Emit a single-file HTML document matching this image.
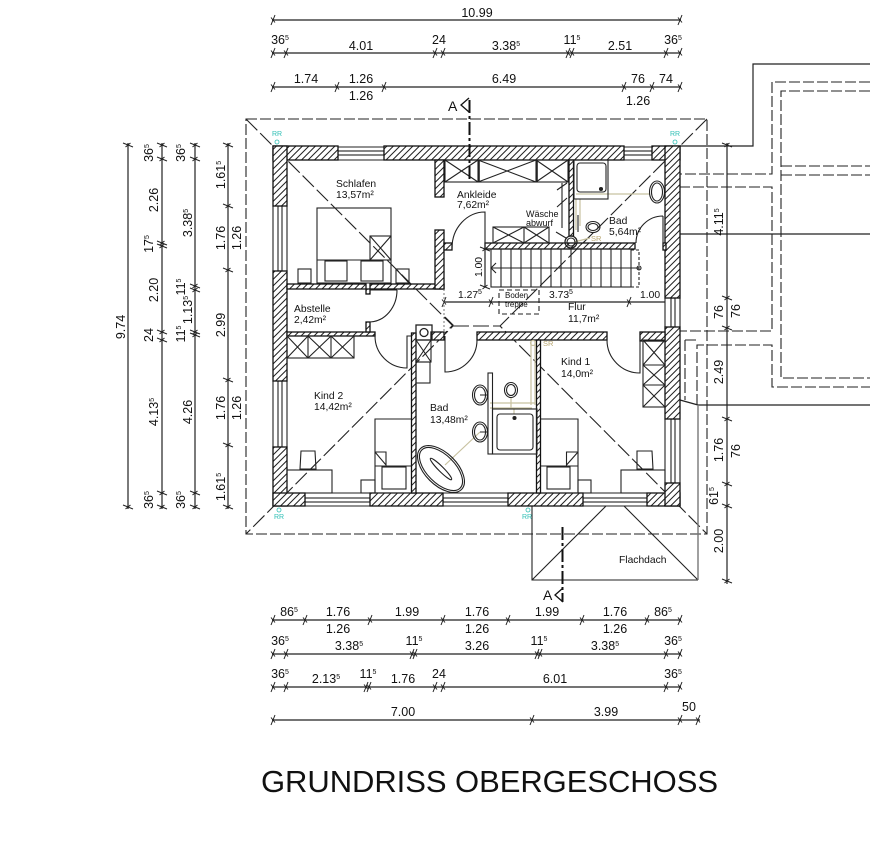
<!DOCTYPE html>
<html lang="de"><head><meta charset="utf-8"><title>Grundriss Obergeschoss</title>
<style>
html,body{margin:0;padding:0;background:#fff;width:870px;height:861px;overflow:hidden}
svg{display:block;filter:blur(.35px)}
text{font-family:"Liberation Sans",sans-serif;fill:#111}
.d{font-size:12.5px;text-anchor:middle}
.r{font-size:10.3px}
.m{font-size:10.3px}
tspan.s{font-size:7px}
.l{stroke:#222;stroke-width:1.2;fill:none}
.t{stroke:#222;stroke-width:1.2;fill:none}
.w{fill:url(#hatch);stroke:#111;stroke-width:1.3}
.f{fill:#fff;stroke:#333;stroke-width:1}
.n{fill:none;stroke:#222;stroke-width:1.1}
.k{fill:none;stroke:#222;stroke-width:1.1;stroke-dasharray:11 3}
.g{fill:none;stroke:#222;stroke-width:1.1;stroke-dasharray:16 4}
.p{fill:none;stroke:#c8c2a0;stroke-width:1.2}
.rr{font-size:7px;fill:#2fbfb5;text-anchor:middle}
.sr{font-size:7.5px;fill:#b8a670}
</style></head><body>
<svg width="870" height="861" viewBox="0 0 870 861" xmlns="http://www.w3.org/2000/svg">
<defs>
<pattern id="hatch" patternUnits="userSpaceOnUse" width="6.5" height="6.5"><rect width="6.5" height="6.5" fill="#fff"/><path d="M-1 7.5L7.5 -1M-1 1L1 -1M5.5 7.5L7.5 5.5" stroke="#222" stroke-width="1"/></pattern>
<path id="th" d="M-2 5L2 -5M-2 -2.500L2 2.500" stroke="#222" stroke-width="1" fill="none"/>
<path id="tv" d="M-5 -2L5 2M-2.500 2L2.500 -2" stroke="#222" stroke-width="1" fill="none"/>
</defs>

<!-- dimension lines top -->
<path class="l" d="M272 20H681M272 53H681M272 87H681"/>
<g>
<use href="#th" x="273" y="20"/><use href="#th" x="680" y="20"/>
<use href="#th" x="273" y="53"/><use href="#th" x="286" y="53"/><use href="#th" x="435" y="53"/><use href="#th" x="443" y="53"/><use href="#th" x="568" y="53"/><use href="#th" x="572" y="53"/><use href="#th" x="666" y="53"/><use href="#th" x="680" y="53"/>
<use href="#th" x="273" y="87"/><use href="#th" x="337" y="87"/><use href="#th" x="384" y="87"/><use href="#th" x="624" y="87"/><use href="#th" x="652" y="87"/><use href="#th" x="680" y="87"/>
</g>
<text class="d" x="477" y="17">10.99</text>
<text class="d" x="280" y="44">36<tspan class="s" dy="-4">5</tspan></text>
<text class="d" x="361" y="50">4.01</text>
<text class="d" x="439" y="44">24</text>
<text class="d" x="506" y="50">3.38<tspan class="s" dy="-4">5</tspan></text>
<text class="d" x="572" y="44">11<tspan class="s" dy="-4">5</tspan></text>
<text class="d" x="620" y="50">2.51</text>
<text class="d" x="673" y="44">36<tspan class="s" dy="-4">5</tspan></text>
<text class="d" x="306" y="83">1.74</text>
<text class="d" x="361" y="83">1.26</text>
<text class="d" x="361" y="100">1.26</text>
<text class="d" x="504" y="83">6.49</text>
<text class="d" x="638" y="83">76</text>
<text class="d" x="666" y="83">74</text>
<text class="d" x="638" y="105">1.26</text>

<!-- dimension lines bottom -->
<path class="l" d="M272 620H681M272 654H681M272 687H681M272 720H700"/>
<g>
<use href="#th" x="273" y="620"/><use href="#th" x="305" y="620"/><use href="#th" x="370" y="620"/><use href="#th" x="443" y="620"/><use href="#th" x="508" y="620"/><use href="#th" x="582" y="620"/><use href="#th" x="647" y="620"/><use href="#th" x="680" y="620"/>
<use href="#th" x="273" y="654"/><use href="#th" x="286" y="654"/><use href="#th" x="412" y="654"/><use href="#th" x="415" y="654"/><use href="#th" x="537" y="654"/><use href="#th" x="540" y="654"/><use href="#th" x="666" y="654"/><use href="#th" x="680" y="654"/>
<use href="#th" x="273" y="687"/><use href="#th" x="286" y="687"/><use href="#th" x="366" y="687"/><use href="#th" x="369" y="687"/><use href="#th" x="435" y="687"/><use href="#th" x="443" y="687"/><use href="#th" x="666" y="687"/><use href="#th" x="680" y="687"/>
<use href="#th" x="273" y="720"/><use href="#th" x="532" y="720"/><use href="#th" x="680" y="720"/><use href="#th" x="698" y="720"/>
</g>
<text class="d" x="289" y="616">86<tspan class="s" dy="-4">5</tspan></text>
<text class="d" x="338" y="616">1.76</text><text class="d" x="338" y="633">1.26</text>
<text class="d" x="407" y="616">1.99</text>
<text class="d" x="477" y="616">1.76</text><text class="d" x="477" y="633">1.26</text>
<text class="d" x="547" y="616">1.99</text>
<text class="d" x="615" y="616">1.76</text><text class="d" x="615" y="633">1.26</text>
<text class="d" x="663" y="616">86<tspan class="s" dy="-4">5</tspan></text>
<text class="d" x="280" y="645">36<tspan class="s" dy="-4">5</tspan></text>
<text class="d" x="349" y="650">3.38<tspan class="s" dy="-4">5</tspan></text>
<text class="d" x="414" y="645">11<tspan class="s" dy="-4">5</tspan></text>
<text class="d" x="477" y="650">3.26</text>
<text class="d" x="539" y="645">11<tspan class="s" dy="-4">5</tspan></text>
<text class="d" x="605" y="650">3.38<tspan class="s" dy="-4">5</tspan></text>
<text class="d" x="673" y="645">36<tspan class="s" dy="-4">5</tspan></text>
<text class="d" x="280" y="678">36<tspan class="s" dy="-4">5</tspan></text>
<text class="d" x="326" y="683">2.13<tspan class="s" dy="-4">5</tspan></text>
<text class="d" x="368" y="678">11<tspan class="s" dy="-4">5</tspan></text>
<text class="d" x="403" y="683">1.76</text>
<text class="d" x="439" y="678">24</text>
<text class="d" x="555" y="683">6.01</text>
<text class="d" x="673" y="678">36<tspan class="s" dy="-4">5</tspan></text>
<text class="d" x="403" y="716">7.00</text>
<text class="d" x="606" y="716">3.99</text>
<text class="d" x="689" y="711">50</text>

<!-- dimension lines left -->
<path class="l" d="M128 143V509M162 143V509M195 143V509M228 143V509"/>
<g>
<use href="#tv" x="128" y="145"/><use href="#tv" x="128" y="507"/>
<use href="#tv" x="162" y="145"/><use href="#tv" x="162" y="159"/><use href="#tv" x="162" y="243"/><use href="#tv" x="162" y="246"/><use href="#tv" x="162" y="332"/><use href="#tv" x="162" y="340"/><use href="#tv" x="162" y="493"/><use href="#tv" x="162" y="507"/>
<use href="#tv" x="195" y="145"/><use href="#tv" x="195" y="159"/><use href="#tv" x="195" y="286"/><use href="#tv" x="195" y="290"/><use href="#tv" x="195" y="332"/><use href="#tv" x="195" y="335"/><use href="#tv" x="195" y="493"/><use href="#tv" x="195" y="507"/>
<use href="#tv" x="228" y="145"/><use href="#tv" x="228" y="206"/><use href="#tv" x="228" y="270"/><use href="#tv" x="228" y="380"/><use href="#tv" x="228" y="445"/><use href="#tv" x="228" y="507"/>
</g>
<text class="d" transform="translate(125,327) rotate(-90)">9.74</text>
<text class="d" transform="translate(153,153) rotate(-90)">36<tspan class="s" dy="-4">5</tspan></text>
<text class="d" transform="translate(158,200) rotate(-90)">2.26</text>
<text class="d" transform="translate(153,244) rotate(-90)">17<tspan class="s" dy="-4">5</tspan></text>
<text class="d" transform="translate(158,290) rotate(-90)">2.20</text>
<text class="d" transform="translate(153,335) rotate(-90)">24</text>
<text class="d" transform="translate(158,412) rotate(-90)">4.13<tspan class="s" dy="-4">5</tspan></text>
<text class="d" transform="translate(153,500) rotate(-90)">36<tspan class="s" dy="-4">5</tspan></text>
<text class="d" transform="translate(185,153) rotate(-90)">36<tspan class="s" dy="-4">5</tspan></text>
<text class="d" transform="translate(192,223) rotate(-90)">3.38<tspan class="s" dy="-4">5</tspan></text>
<text class="d" transform="translate(185,287) rotate(-90)">11<tspan class="s" dy="-4">5</tspan></text>
<text class="d" transform="translate(192,310) rotate(-90)">1.13<tspan class="s" dy="-4">5</tspan></text>
<text class="d" transform="translate(185,334) rotate(-90)">11<tspan class="s" dy="-4">5</tspan></text>
<text class="d" transform="translate(192,412) rotate(-90)">4.26</text>
<text class="d" transform="translate(185,500) rotate(-90)">36<tspan class="s" dy="-4">5</tspan></text>
<text class="d" transform="translate(225,175) rotate(-90)">1.61<tspan class="s" dy="-4">5</tspan></text>
<text class="d" transform="translate(225,238) rotate(-90)">1.76</text>
<text class="d" transform="translate(241,238) rotate(-90)">1.26</text>
<text class="d" transform="translate(225,325) rotate(-90)">2.99</text>
<text class="d" transform="translate(225,408) rotate(-90)">1.76</text>
<text class="d" transform="translate(241,408) rotate(-90)">1.26</text>
<text class="d" transform="translate(225,487) rotate(-90)">1.61<tspan class="s" dy="-4">5</tspan></text>

<!-- adjoining building / right side -->
<path class="t" d="M680 146H753V64H870M670 234H870M698 405H870M680 400L698 405"/>
<path class="k" d="M870 82H772V174H665M870 91H781V378H870M781 166H870M781 175H870M665 187H772V331H665M685 340H697M697 405V345H772V387H870"/>
<path class="k" d="M685 340V400"/>
<path class="l" d="M727 143V584"/>
<g>
<use href="#tv" x="727" y="145"/><use href="#tv" x="727" y="298"/><use href="#tv" x="727" y="328"/><use href="#tv" x="727" y="419"/><use href="#tv" x="727" y="484"/><use href="#tv" x="727" y="506"/><use href="#tv" x="727" y="581"/>
</g>
<text class="d" transform="translate(723,222) rotate(-90)">4.11<tspan class="s" dy="-4">5</tspan></text>
<text class="d" transform="translate(723,312) rotate(-90)">76</text>
<text class="d" transform="translate(740,311) rotate(-90)">76</text>
<text class="d" transform="translate(723,372) rotate(-90)">2.49</text>
<text class="d" transform="translate(723,450) rotate(-90)">1.76</text>
<text class="d" transform="translate(740,451) rotate(-90)">76</text>
<text class="d" transform="translate(718,496) rotate(-90)">61<tspan class="s" dy="-4">5</tspan></text>
<text class="d" transform="translate(723,541) rotate(-90)">2.00</text>

<!-- roof outline + hips -->
<rect class="k" x="246" y="119" width="461" height="415"/>
<path class="g" d="M246 119L453 326L246 534M707 119L500 326L707 534M453 326H500M445 317L453 325L445 333"/>

<!-- flat roof -->
<path class="n" d="M532 506V580H698M532 580L606 506M698 580L624 506"/>
<path d="M698 405V580" stroke="#777" stroke-width="1.4" fill="none"/>
<text class="r" x="619" y="563">Flachdach</text>

<!-- windows -->
<g class="n">
<path d="M338 147H384M338 160H384M273 206V271M287 206V271M665 298V327M680 298V327M273 381V447M287 381V447M305 493H370M305 506H370M443 493H508M443 506H508M583 493H647M583 506H647M665 419V483M680 419V483M624 147H652M624 160H652"/>
<rect x="338" y="151" width="46" height="4"/><rect x="624" y="151" width="28" height="4"/>
<rect x="278" y="206" width="4" height="65"/><rect x="278" y="381" width="4" height="66"/>
<rect x="305" y="498" width="65" height="4"/><rect x="443" y="498" width="65" height="4"/><rect x="583" y="498" width="64" height="4"/>
<rect x="671" y="298" width="4" height="29"/><rect x="671" y="419" width="4" height="64"/>
</g>

<!-- outer walls -->
<g class="w">
<rect x="273" y="146" width="65" height="14"/>
<rect x="384" y="146" width="240" height="14"/>
<rect x="652" y="146" width="28" height="14"/>
<rect x="273" y="146" width="14" height="60"/>
<rect x="273" y="271" width="14" height="110"/>
<rect x="273" y="447" width="14" height="59"/>
<rect x="273" y="493" width="32" height="13"/>
<rect x="370" y="493" width="73" height="13"/>
<rect x="508" y="493" width="75" height="13"/>
<rect x="647" y="493" width="33" height="13"/>
<rect x="665" y="146" width="15" height="152"/>
<rect x="665" y="327" width="15" height="92"/>
<rect x="665" y="483" width="15" height="23"/>
<!-- inner walls -->
<rect x="287" y="284" width="79" height="5"/>
<rect x="370" y="284" width="74" height="5"/>
<rect x="435" y="160" width="9" height="37"/>
<rect x="435" y="230" width="9" height="59"/>
<rect x="444" y="243" width="8" height="7"/>
<rect x="485" y="243" width="150" height="6"/>
<rect x="569" y="160" width="4.5" height="76"/>
<rect x="287" y="332" width="88" height="4"/>
<rect x="366" y="322" width="4" height="10"/>
<rect x="366" y="289" width="4" height="5"/>
<rect x="411.500" y="333" width="4.500" height="160"/>
<rect x="431" y="332" width="13" height="8"/>
<rect x="477" y="332" width="130" height="8"/>
<rect x="640" y="332" width="25" height="9"/>
<rect x="536.500" y="340" width="4" height="153"/>
<rect x="663" y="243" width="3" height="7"/>
</g>

<!-- doors -->
<g class="n">
<path d="M370 290H397V290M397 290A28 32 0 0 1 370 322"/>
<path d="M375 336A32 32 0 0 0 407 368V336H411"/>
<path d="M445 336V372A32 32 0 0 0 477 340"/>
<path d="M607 340A33 33 0 0 0 640 373V340"/>
<path d="M452 248A33 36 0 0 1 485 212V249"/>
<path d="M663 216V249M663 216A27 27 0 0 0 636 243"/>
</g>

<!-- closets -->
<g class="n">
<rect x="287" y="336" width="67" height="22"/>
<path d="M308 336V358M331 336V358M287 336L308 358M308 336L287 358M308 336L331 358M331 336L308 358M331 336L354 358M354 336L331 358"/>
<rect x="445" y="160" width="123" height="22"/>
<path d="M478 160V182M536 160V182M445 160L478 182M478 160L445 182M478 160L536 182M536 160L478 182M536 160L568 182M568 160L536 182"/>
<path d="M479 160V182M537 160V182" stroke-width="1.600"/>
<rect x="493" y="227" width="56" height="16"/>
<path d="M524 227V243M493 227L524 243M524 227L493 243M524 227L549 243M549 227L524 243"/>
<rect x="643" y="340" width="22" height="67"/>
<path d="M643 365H665M643 385H665M643 340L665 365M665 340L643 365M643 365L665 385M665 365L643 385M643 385L665 407M665 385L643 407"/>
</g>

<!-- chimney -->
<g class="n">
<rect x="416" y="325" width="16" height="15" stroke-width="1.300"/>
<circle cx="424" cy="332.500" r="4" stroke-width="1.300"/>
<rect x="416" y="340" width="15" height="22"/>
<path d="M416 340L431 362M431 340L416 362"/>
<rect x="416" y="362" width="14" height="21"/>
</g>

<!-- Schlafen furniture -->
<g class="n">
<rect x="317" y="208" width="74" height="75"/>
<path d="M317 260H391"/>
<rect x="325" y="261" width="22" height="20"/><rect x="361" y="261" width="22" height="20"/>
<rect x="370" y="236" width="21" height="24"/><path d="M370 236L391 260M391 236L370 260"/>
<rect x="298" y="269" width="13" height="14"/><rect x="396" y="269" width="13" height="14"/><path d="M396 269L409 283"/>
</g>

<!-- Kind 2 furniture -->
<g class="n">
<path d="M411 419H375V493H411M375 466H411"/>
<rect x="382" y="467" width="24" height="22"/>
<path d="M375 452H386V465L375 452"/>
<rect x="361" y="480" width="14" height="13"/>
<rect x="287" y="470" width="45" height="23"/>
<path d="M301 451H315L316 469H300Z"/>
</g>

<!-- Kind 1 furniture -->
<g class="n">
<path d="M541 419H578V493H541M541 466H578"/>
<rect x="547" y="467" width="23" height="22"/>
<path d="M578 452H566.500V465L578 452"/>
<rect x="578" y="480" width="13" height="13"/>
<rect x="621" y="470" width="44" height="23"/>
<path d="M637 451H652L653 469H637Z"/>
</g>

<!-- pipes -->
<g class="p">
<path d="M531 342V405M535 342V405M490 403H535M490 408H532"/>
<path d="M480 432L445 465"/>
<path d="M511 397V408M514 408V414"/>
<path d="M576 194H650M576 199V230M580 199V226M590 238L574 242"/>
<circle cx="533" cy="343" r="2.500"/>
</g>

<!-- Bad EG side -->
<g class="n">
<rect x="488" y="373" width="4.500" height="81"/>
<rect x="492.500" y="409" width="44.500" height="45"/>
<rect x="497" y="414" width="36" height="36" rx="3"/>
<circle cx="514.500" cy="418" r="1.500" fill="#222"/>
<ellipse cx="480" cy="395" rx="7.500" ry="10"/><ellipse cx="480" cy="395" rx="5.500" ry="8"/>
<ellipse cx="480" cy="432" rx="7.500" ry="10"/><ellipse cx="480" cy="432" rx="5.500" ry="8"/>
<path d="M480 395H488M480 432H488"/>
<ellipse cx="511" cy="390" rx="6.500" ry="7.500"/><ellipse cx="511" cy="390" rx="4.500" ry="5.500"/>
<g transform="rotate(45 441 469)">
<ellipse cx="441" cy="469" rx="29" ry="16"/>
<ellipse cx="441" cy="469" rx="27" ry="14"/>
<ellipse cx="441" cy="469" rx="15" ry="2.500"/>
</g>
</g>

<!-- upper bath -->
<g class="n">
<rect x="574" y="160" width="34" height="39"/>
<rect x="577" y="163" width="29" height="29" rx="3"/>
<circle cx="601" cy="189" r="1.500" fill="#222"/>
<ellipse cx="657" cy="192" rx="7.500" ry="11"/><ellipse cx="657" cy="192" rx="5.500" ry="9"/>
<ellipse cx="593" cy="227" rx="7" ry="5.500"/><ellipse cx="593" cy="227" rx="5" ry="3.500"/>
<path d="M578 215V232"/>
<circle cx="571" cy="242" r="6" stroke-width="1.300"/><circle cx="571" cy="242" r="4"/>
<path d="M556 232L566 238M557 190L567 183M557 207L567 198"/>
<path d="M562 183V228"/>
</g>

<!-- stairs -->
<g class="n">
<rect x="491" y="249" width="140" height="38"/>
<path d="M501 249V287M511 249V287M521 249V287M531 249V287M541 249V287M551 249V287M561 249V287M571 249V287M581 249V287M591 249V287M601 249V287M611 249V287M621 249V287M491 268H639"/>
<path d="M631 250H639V287H631" stroke-dasharray="3 2"/>
<circle cx="639" cy="268" r="2"/>
<path d="M496 263L491 268L496 273"/>
</g>
<path class="l" d="M485 249V287M444 302H665"/>
<g>
<use href="#tv" x="485" y="249"/><use href="#tv" x="485" y="287"/>
<use href="#th" x="444" y="302"/><use href="#th" x="491" y="302"/><use href="#th" x="629" y="302"/>
</g>
<path d="M444 289V332" stroke="#555" stroke-width="0.8" stroke-dasharray="2 2" fill="none"/>
<rect class="n" x="499" y="290" width="40" height="24" stroke-dasharray="5 3"/>

<!-- section marks -->
<path d="M469.500 100V182" stroke="#111" stroke-width="2" stroke-dasharray="13 3 3 3" fill="none"/>
<path d="M469 98L461 105L469 112" stroke="#111" stroke-width="1.300" fill="none"/>
<text x="448" y="111" style="font-size:14px">A</text>
<path d="M562.500 527V602" stroke="#111" stroke-width="2" stroke-dasharray="13 3 3 3" fill="none"/>
<path d="M563 588L555 595L563 602" stroke="#111" stroke-width="1.300" fill="none"/>
<text x="543" y="600" style="font-size:14px">A</text>

<!-- room labels -->
<text class="r" x="336" y="187">Schlafen</text><text class="r" x="336" y="198">13,57m²</text>
<text class="r" x="457" y="198">Ankleide</text><text class="r" x="457" y="208">7,62m²</text>
<text x="526" y="217" style="font-size:9px">Wäsche</text><text x="526" y="226" style="font-size:9px">abwurf</text>
<text class="r" x="609" y="224">Bad</text><text class="r" x="609" y="235">5,64m²</text>
<text class="r" x="568" y="310">Flur</text><text class="r" x="568" y="322">11,7m²</text>
<text class="r" x="294" y="312">Abstelle</text><text class="r" x="294" y="323">2,42m²</text>
<text class="r" x="314" y="399">Kind 2</text><text class="r" x="314" y="410">14,42m²</text>
<text class="r" x="430" y="411">Bad</text><text class="r" x="430" y="423">13,48m²</text>
<text class="r" x="561" y="365">Kind 1</text><text class="r" x="561" y="377">14,0m²</text>
<text x="505" y="298" style="font-size:8px">Boden</text><text x="505" y="307" style="font-size:8px">treppe</text>
<text class="m" x="458" y="298">1.27<tspan class="s" dy="-4">5</tspan></text>
<text class="m" x="549" y="298">3.73<tspan class="s" dy="-4">5</tspan></text>
<text class="m" x="640" y="298">1.00</text>
<text class="m" text-anchor="middle" transform="translate(482,267) rotate(-90)">1.00</text>

<!-- RR / SR -->
<text class="rr" x="277" y="136">RR</text><circle cx="277" cy="142" r="2" fill="none" stroke="#2fbfb5" stroke-width="0.8"/>
<text class="rr" x="675" y="136">RR</text><circle cx="675" cy="142" r="2" fill="none" stroke="#2fbfb5" stroke-width="0.8"/>
<text class="rr" x="279" y="519">RR</text><circle cx="279" cy="510" r="2" fill="none" stroke="#2fbfb5" stroke-width="0.8"/>
<text class="rr" x="527" y="519">RR</text><circle cx="528" cy="510" r="2" fill="none" stroke="#2fbfb5" stroke-width="0.8"/>
<text class="sr" x="591" y="241">SR</text>
<text class="sr" x="543" y="346">SR</text>

<text x="261" y="792" textLength="457" lengthAdjust="spacing" style="font-size:31px;fill:#111">GRUNDRISS OBERGESCHOSS</text>
</svg>
</body></html>
